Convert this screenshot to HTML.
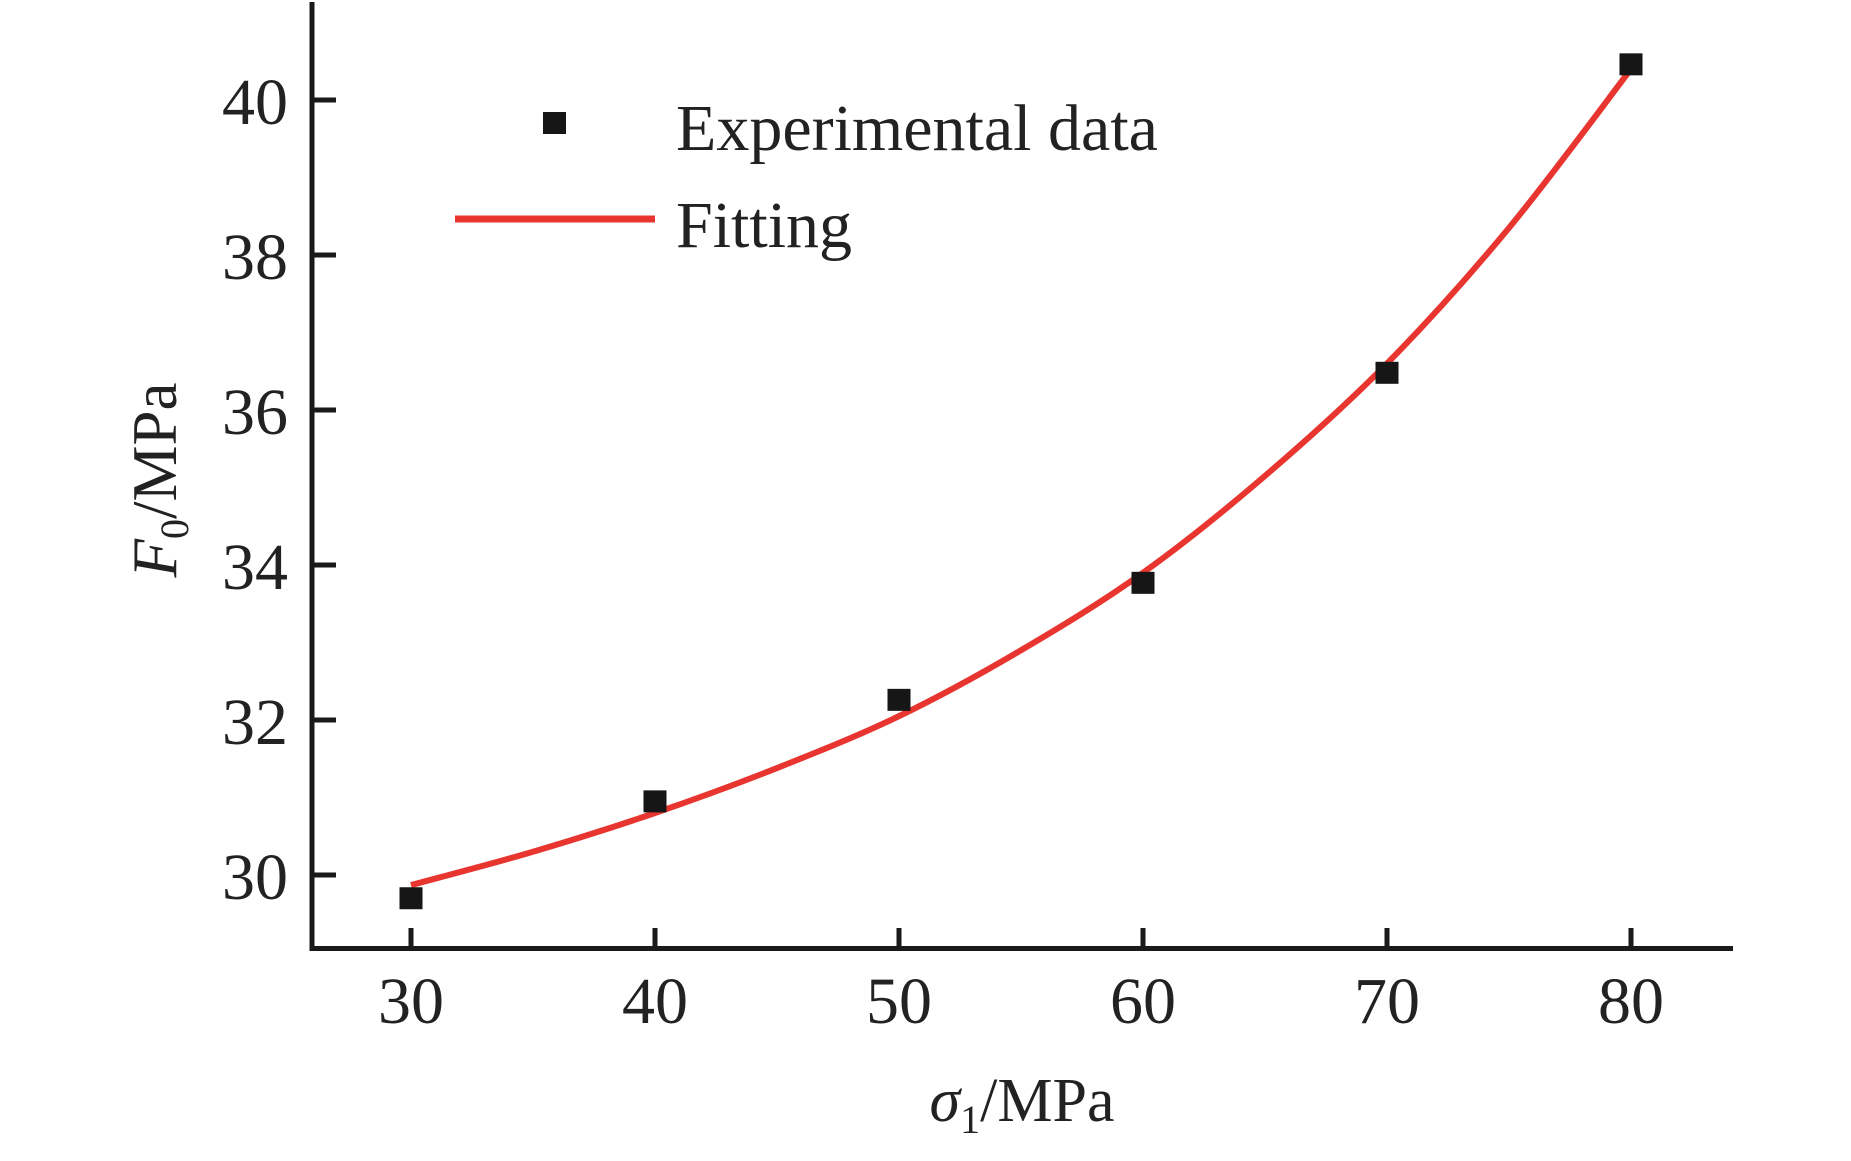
<!DOCTYPE html>
<html><head><meta charset="utf-8"><style>
html,body{margin:0;padding:0;background:#fff;}
svg{display:block;font-family:"Liberation Serif",serif;}
</style></head><body>
<svg id="chart" width="1851" height="1161" viewBox="0 0 1851 1161" xmlns="http://www.w3.org/2000/svg">
<g id="axes"></g>
<g id="fit"></g>
<g id="pts"></g>
<g id="legend">
  <rect x="543" y="112" width="23" height="22" fill="#161616"/>
  <text x="676" y="150" font-size="66" fill="#222">Experimental data</text>
  <line x1="455" y1="219" x2="655" y2="219" stroke="#e8352f" stroke-width="7"/>
  <text x="676" y="247" font-size="66" fill="#222">Fitting</text>
</g>
<text x="1022" y="1121" font-size="62" fill="#222" text-anchor="middle"><tspan font-style="italic">σ</tspan><tspan font-size="40" dy="12">1</tspan><tspan dy="-12">/MPa</tspan></text>
<text transform="translate(176,480) rotate(-90)" font-size="63" fill="#222" text-anchor="middle"><tspan font-style="italic">F</tspan><tspan font-size="40" dy="12">0</tspan><tspan dy="-12">/MPa</tspan></text>
</svg>
<script>
const xTicks = [30, 40, 50, 60, 70, 80];
const yTicks = [30, 32, 34, 36, 38, 40];
const expX = [30, 40, 50, 60, 70, 80];
const expY = [29.7, 30.95, 32.26, 33.77, 36.48, 40.46];
const fitX = [30, 35, 40, 45, 50, 55, 60, 65, 70, 75, 80];
const fitY = [29.87, 30.3, 30.8, 31.38, 32.05, 32.9, 33.9, 35.15, 36.6, 38.35, 40.4];

const NS = "http://www.w3.org/2000/svg";
function sx(v){ return 411 + (v - 30) * 24.4; }
function sy(v){ return 100 + (40 - v) * 77.5; }
function mk(tag, attrs, parent){
  const e = document.createElementNS(NS, tag);
  for (const k in attrs) e.setAttribute(k, attrs[k]);
  parent.appendChild(e);
  return e;
}
const axes = document.getElementById('axes');
let e = mk('line', {x1:312, y1:2, x2:312, y2:951, stroke:'#1a1a1a', 'stroke-width':5}, axes);


e = mk('line', {x1:310, y1:948.5, x2:1733, y2:948.5, stroke:'#1a1a1a', 'stroke-width':5}, axes);


xTicks.forEach(t => {
  const tk = mk('line', {x1:sx(t), y1:928, x2:sx(t), y2:948, stroke:'#1a1a1a', 'stroke-width':5}, axes);
  
  
  const lb = mk('text', {x:sx(t), y:1023, 'font-size':66, fill:'#222', 'text-anchor':'middle'}, axes);
  lb.textContent = t;
  
  
});
yTicks.forEach(t => {
  const tk = mk('line', {x1:312, y1:sy(t), x2:336, y2:sy(t), stroke:'#1a1a1a', 'stroke-width':5}, axes);
  
  
  const lb = mk('text', {x:288, y:sy(t)+24, 'font-size':66, fill:'#222', 'text-anchor':'end'}, axes);
  lb.textContent = t;
  
  
});
const P = fitX.map((x,i)=>[sx(x), sy(fitY[i])]);
let d = 'M' + P[0][0] + ',' + P[0][1];
for (let i=0;i<P.length-1;i++){
  const p0=P[Math.max(i-1,0)], p1=P[i], p2=P[i+1], p3=P[Math.min(i+2,P.length-1)];
  const c1=[p1[0]+(p2[0]-p0[0])/6, p1[1]+(p2[1]-p0[1])/6];
  const c2=[p2[0]-(p3[0]-p1[0])/6, p2[1]-(p3[1]-p1[1])/6];
  d += ' C'+c1[0]+','+c1[1]+' '+c2[0]+','+c2[1]+' '+p2[0]+','+p2[1];
}
const fitG = document.getElementById('fit');
const pts = document.getElementById('pts');
expX.forEach((x,i)=>{
  const r = mk('rect', {x:sx(x)-11.5, y:sy(expY[i])-11, width:23, height:22, fill:'#161616'}, pts);
  
  
});
const path = mk('path', {d:d, fill:'none', stroke:'#e8352f', 'stroke-width':6}, fitG);


</script>
</body></html>
